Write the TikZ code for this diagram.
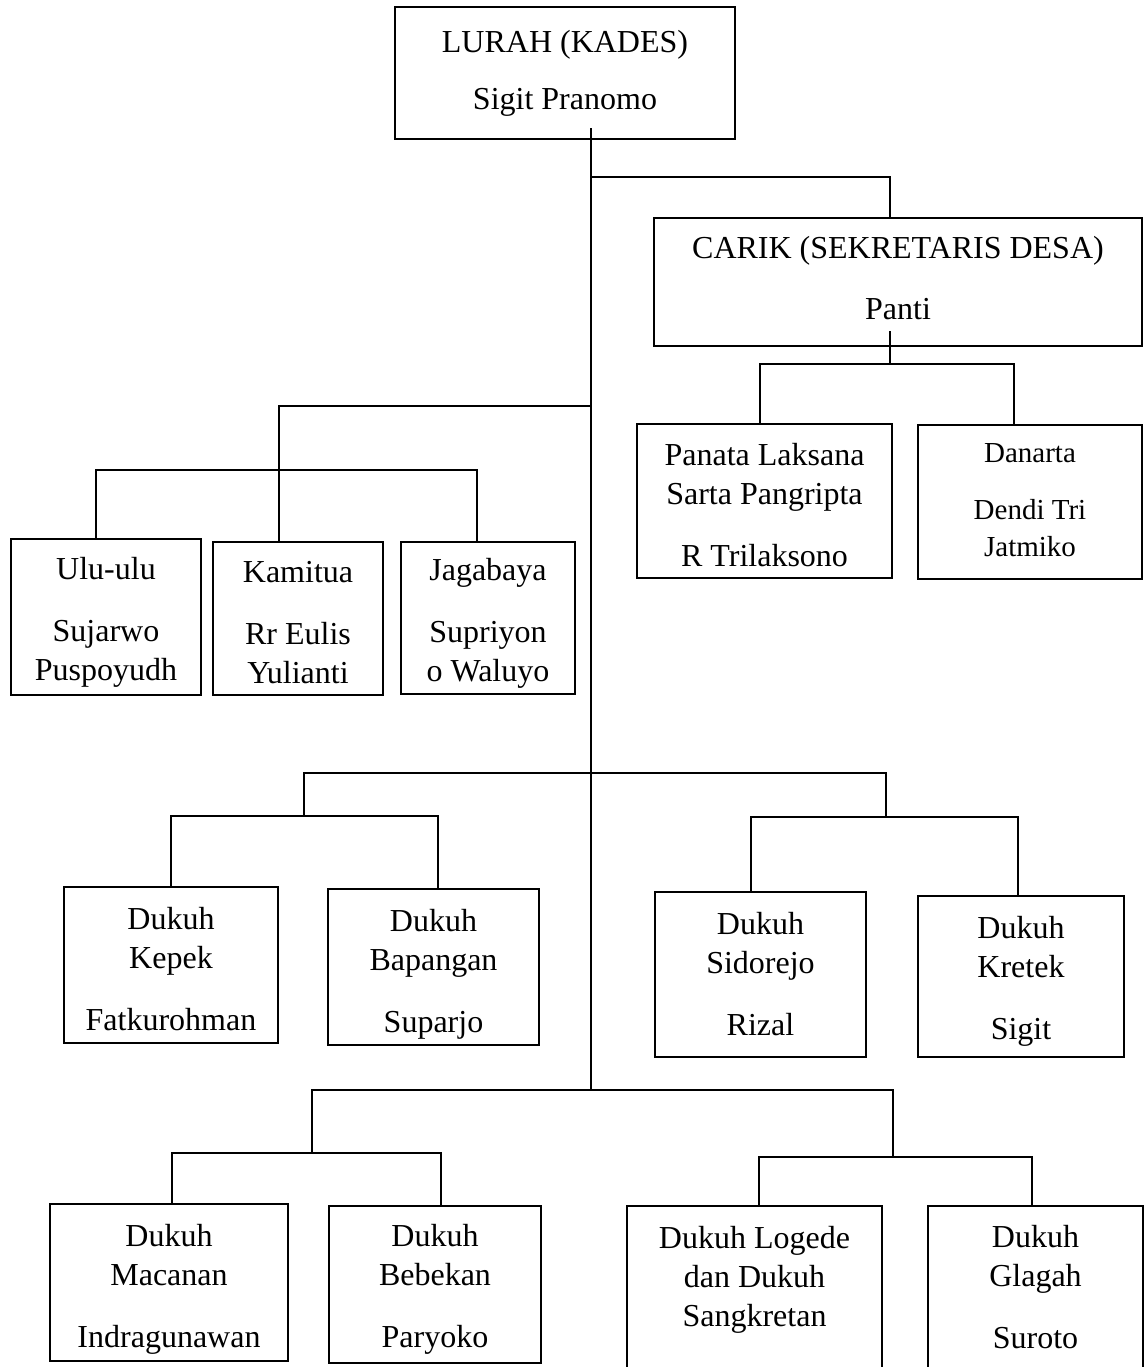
\documentclass[tikz,border=0pt]{standalone}
\usepackage{fontspec}
\setmainfont{Liberation Serif}
\usepackage{tikz}
\tikzset{
  orgBox/.style={draw, line width=2.6bp, inner sep=2bp, align=center,
    font=\fontsize{32bp}{39bp}\selectfont},
  orgLink/.style={line width=1.1bp},
}
% struts to nudge the text inside a box
\def\padTop#1{\rule{0pt}{#1}}
\def\padBot#1{\rule[-#1]{0pt}{#1}}
\def\textLurah{LURAH (KADES)\\[18bp]Sigit Pranomo}
\def\textCarik{CARIK (SEKRETARIS DESA)\\[22bp]Panti\padBot{8bp}}
\def\textPanata{\padTop{30bp}Panata Laksana\\Sarta Pangripta\\[23bp]R Trilaksono}
\def\textDanarta{Danarta\\[20bp]Dendi Tri\\Jatmiko\padBot{4bp}}
\def\textUlu{\padTop{32bp}Ulu-ulu\\[23bp]Sujarwo\\Puspoyudh}
\def\textKamitua{\padTop{30bp}Kamitua\\[23bp]Rr Eulis\\Yulianti}
\def\textJagabaya{\padTop{32bp}Jagabaya\\[23bp]Supriyon\\o Waluyo}
\def\textKepek{\padTop{30bp}Dukuh\\Kepek\\[23bp]Fatkurohman}
\def\textBapangan{\padTop{36bp}Dukuh\\Bapangan\\[23bp]Suparjo}
\def\textSidorejo{Dukuh\\Sidorejo\\[23bp]Rizal}
\def\textKretek{\padTop{32bp}Dukuh\\Kretek\\[23bp]Sigit}
\def\textMacanan{\padTop{36bp}Dukuh\\Macanan\\[23bp]Indragunawan}
\def\textBebekan{\padTop{32bp}Dukuh\\Bebekan\\[23bp]Paryoko}
\def\textLogede{Dukuh Logede\\dan Dukuh\\Sangkretan\\[35bp]\mbox{}}
\def\textGlagah{Dukuh\\Glagah\\[23bp]Suroto\\[13bp]\mbox{}}

\begin{document}
\begin{tikzpicture}[x=1bp,y=-1bp]
\useasboundingbox (0,0) rectangle (1145,1367);

% boxes
\node[orgBox, minimum width=340bp, minimum height=132bp] (lurah) at (565,73) {\textLurah};
\node[orgBox, minimum width=488bp, minimum height=128bp] (carik) at (898,282) {\textCarik};
\node[orgBox, minimum width=255bp, minimum height=154bp] (panata) at (764.5,501) {\textPanata};
\node[orgBox, minimum width=224bp, minimum height=154bp,
  font=\fontsize{29bp}{37bp}\selectfont] (danarta) at (1030,502) {\textDanarta};

\node[orgBox, minimum width=190bp, minimum height=156bp] (ulu) at (106,617) {\textUlu};
\node[orgBox, minimum width=170bp, minimum height=153bp] (kamitua) at (298,618.5) {\textKamitua};
\node[orgBox, minimum width=174bp, minimum height=152bp] (jagabaya) at (488,618) {\textJagabaya};

\node[orgBox, minimum width=214bp, minimum height=156bp] (kepek) at (171,965) {\textKepek};
\node[orgBox, minimum width=211bp, minimum height=156bp] (bapangan) at (433.5,967) {\textBapangan};
\node[orgBox, minimum width=211bp, minimum height=165bp] (sidorejo) at (760.5,974.5) {\textSidorejo};
\node[orgBox, minimum width=206bp, minimum height=161bp] (kretek) at (1021,976.5) {\textKretek};

\node[orgBox, minimum width=238bp, minimum height=157bp] (macanan) at (169,1282.5) {\textMacanan};
\node[orgBox, minimum width=212bp, minimum height=157bp] (bebekan) at (435,1284.5) {\textBebekan};
\node[orgBox, minimum width=255bp, minimum height=214bp] (logede) at (754.5,1313) {\textLogede};
\node[orgBox, minimum width=215bp, minimum height=214bp] (glagah) at (1035.5,1313) {\textGlagah};

% junctions
\coordinate (trunkEnd) at (591,1090);
\coordinate (jCarik) at (591,177);
\coordinate (jSek) at (890,364);
\coordinate (jPamong) at (591,406);
\coordinate (jStaf) at (279,470);
\coordinate (jKiriA) at (304,816);
\coordinate (jKananA) at (886,817);
\coordinate (jKiriB) at (312,1153);
\coordinate (jKananB) at (893,1157);

% link layer
\draw[orgLink] ([yshift=12bp]lurah.south -| trunkEnd) -- (trunkEnd);
\draw[orgLink] (jCarik) -| ([xshift=-8bp]carik.north);
\draw[orgLink] ([yshift=16bp]carik.south -| jSek) -- (jSek);
\draw[orgLink] ([xshift=-4.5bp]panata.north) |- (jSek) -| ([xshift=-16bp]danarta.north);

\draw[orgLink] (jPamong) -| ([xshift=-19bp]kamitua.north);
\draw[orgLink] ([xshift=-10bp]ulu.north) |- (jStaf) -| ([xshift=-11bp]jagabaya.north);

\draw[orgLink] (jKiriA) -- ++(0,-43) -| (jKananA);
\draw[orgLink] (kepek.north) |- (jKiriA) -| ([xshift=4.5bp]bapangan.north);
\draw[orgLink] ([xshift=-9.5bp]sidorejo.north) |- (jKananA) -| ([xshift=-3bp]kretek.north);

\draw[orgLink] (jKiriB) -- ++(0,-63) -| (jKananB);
\draw[orgLink] ([xshift=3bp]macanan.north) |- (jKiriB) -| ([xshift=6bp]bebekan.north);
\draw[orgLink] ([xshift=4.5bp]logede.north) |- (jKananB) -| ([xshift=-3.5bp]glagah.north);

\end{tikzpicture}
\end{document}
